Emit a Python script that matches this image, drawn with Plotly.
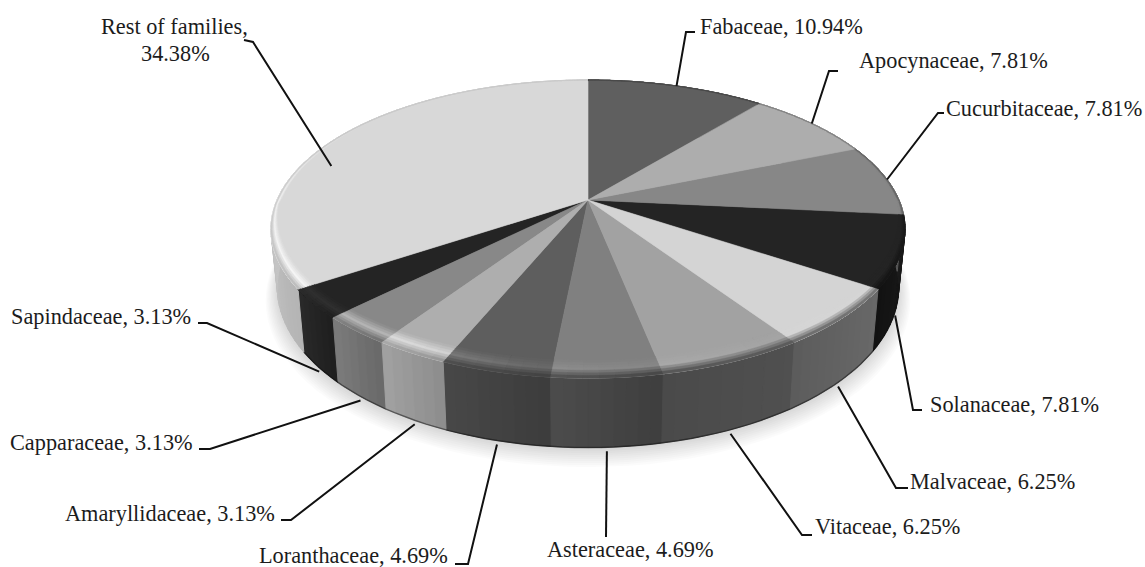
import numpy as np
import plotly.graph_objects as go

# Share of species per plant family, clockwise from twelve o'clock
families = ["Fabaceae", "Apocynaceae", "Cucurbitaceae", "Solanaceae", "Malvaceae", "Vitaceae",
            "Asteraceae", "Loranthaceae", "Amaryllidaceae", "Capparaceae", "Sapindaceae",
            "Rest of families"]
shares = [10.94, 7.81, 7.81, 7.81, 6.25, 6.25, 4.69, 4.69, 3.13, 3.13, 3.13, 34.38]

# Grey level of each slice: top face, side wall at its clockwise start and at its end
top_gray = [0x5f, 0xad, 0x87, 0x24, 0xd4, 0xa2, 0x80, 0x5e, 0xae, 0x88, 0x24, 0xd8]
side_from = [0x40, 0x70, 0x58, 0x1c, 0x68, 0x50, 0x3e, 0x3c, 0x8c, 0x68, 0x1e, 0xb4]
side_to = [0x40, 0x70, 0x58, 0x12, 0x5c, 0x4a, 0x4c, 0x48, 0xa2, 0x7c, 0x2a, 0xc4]

# Pie geometry in page pixels: apex, radii, perspective strength, wall depth
CX, CY = 588.0, 200.0
RX, RY = 311.0, 143.4
PERSP = 0.1946
DEPTH = 56.0
TAPER = 0.98
WALL_VISIBLE_TO = 262.0

# Label text placement: left edge and vertical centre; elbow of each leader line
label_pos = {
    "Fabaceae": (698, 26), "Apocynaceae": (857, 60), "Cucurbitaceae": (944, 108),
    "Solanaceae": (928, 404), "Malvaceae": (908, 481), "Vitaceae": (813, 526),
    "Asteraceae": (545, 549), "Loranthaceae": (257, 555), "Amaryllidaceae": (63, 513),
    "Capparaceae": (8, 442), "Sapindaceae": (9, 316),
}
leader_bend = {
    "Fabaceae": [(686, 32), (695, 32)], "Apocynaceae": [(829, 71), (838, 71)],
    "Cucurbitaceae": [(938, 113), (944, 113)], "Solanaceae": [(913, 410), (922, 410)],
    "Malvaceae": [(896, 488), (908, 488)], "Vitaceae": [(802, 535), (812, 535)],
    "Asteraceae": [(606, 537)], "Loranthaceae": [(468, 564), (455, 564)],
    "Amaryllidaceae": [(291, 520), (281, 520)], "Capparaceae": [(210, 449), (199, 449)],
    "Sapindaceae": [(207, 323), (198, 323)], "Rest of families": [(253, 42), (244, 40)],
}
wall_leaders = {"Solanaceae", "Malvaceae", "Vitaceae", "Asteraceae", "Loranthaceae",
                "Amaryllidaceae", "Capparaceae", "Sapindaceae"}


def project(theta, r=1.0, wall=0.0):
    """Screen position of a disc point; theta in degrees clockwise from the top."""
    t = np.radians(theta)
    X, Y = r * np.sin(t), r * np.cos(t)
    s = 1.0 / (1.0 + PERSP * Y)
    taper = 1.0 + (TAPER - 1.0) * wall
    return CX + RX * X * s * taper, CY - RY * Y * s + DEPTH * s * wall


def arc(a, b, step=1.5):
    n = max(2, int(np.ceil(abs(b - a) / step)) + 1)
    return np.linspace(a, b, n)


def bevel_width(theta):
    y = np.cos(np.radians(theta))
    return 0.008 + 0.075 * max(0.0, -y) if y < 0 else 0.008 + 0.006 * (1 - y)


def highlight(theta):
    return np.interp(theta, [100, 150, 178, 190, 200, 210, 240, 270, 290, 310, 360],
                     [0, 0.05, 0.2, 0.35, 0.7, 0.95, 0.95, 0.85, 0.35, 0, 0])


def side_gray(k, theta):
    a = edges[k]
    end = min(edges[k + 1], WALL_VISIBLE_TO)
    f = np.clip((theta - a) / max(end - a, 1e-6), 0, 1)
    return side_from[k] + (side_to[k] - side_from[k]) * f


class Layer:
    """Polygons of one stacking level, merged per grey value into a single trace."""

    def __init__(self, line_width):
        self.buckets = {}
        self.line_width = line_width

    def add(self, gray, xs, ys):
        g = int(np.clip(round(gray), 0, 255))
        bx, by = self.buckets.setdefault(g, ([], []))
        bx.extend(list(xs) + [xs[0], None])
        by.extend(list(ys) + [ys[0], None])

    def draw(self, figure):
        for g, (xs, ys) in sorted(self.buckets.items()):
            c = f"rgb({g},{g},{g})"
            figure.add_trace(go.Scatter(
                x=xs, y=ys, mode="lines", fill="toself", fillcolor=c,
                line=dict(color=c, width=self.line_width), hoverinfo="skip", showlegend=False))


total = sum(shares)
edges = np.concatenate([[0.0], np.cumsum(shares)]) / total * 360.0

fig = go.Figure()

# Soft drop shadow under the wall
for i in range(10):
    th = arc(0, 360, 3)
    sx, sy = project(th, 1.0 + 0.004 * i, 1.0)
    fig.add_trace(go.Scatter(x=sx, y=sy + 2 + 1.0 * i, mode="lines", fill="toself",
                             fillcolor="rgba(0,0,0,0.014)", line=dict(width=0),
                             hoverinfo="skip", showlegend=False))

# Wall base: one flat polygon per slice so strip seams never show the page through
base = Layer(0)
for k in range(len(families)):
    th = arc(edges[k], edges[k + 1])
    tx, ty = project(th)
    wx, wy = project(th[::-1], 1.0, 1.0)
    base.add(side_gray(k, 0.5 * (edges[k] + min(edges[k + 1], WALL_VISIBLE_TO))),
             list(tx) + list(wx), list(ty) + list(wy))
base.draw(fig)

# Wall shading, one strip per arc step
walls = Layer(1.0)
for k in range(len(families)):
    th = arc(edges[k], edges[k + 1], 2.0)
    for t0, t1 in zip(th[:-1], th[1:]):
        x0, y0 = project(t0)
        x1, y1 = project(t1)
        x2, y2 = project(t1, 1.0, 1.0)
        x3, y3 = project(t0, 1.0, 1.0)
        walls.add(side_gray(k, 0.5 * (t0 + t1)), [x0, x1, x2, x3], [y0, y1, y2, y3])
walls.draw(fig)

# Dark line along the lower edge of the wall
th = arc(100, 236, 2)
bx, by = project(th, 1.0, 1.0)
fig.add_trace(go.Scatter(x=bx, y=by, mode="lines", line=dict(color="rgba(15,15,15,0.5)", width=1.4),
                         hoverinfo="skip", showlegend=False))

# Top faces
faces = Layer(0.6)
for k in range(len(families)):
    th = arc(edges[k], edges[k + 1])
    x, y = project(th)
    faces.add(top_gray[k], [CX] + list(x), [CY] + list(y))
faces.draw(fig)

# Rounded edge between top face and wall: nested bands painted from the inside out
BANDS = np.linspace(0.0, 1.0, 8)
for j, u0 in enumerate(BANDS[:-1]):
    u = u0 + 0.5 * (BANDS[1] - BANDS[0])
    band = Layer(0.4)
    for k in range(len(families)):
        th = arc(edges[k], edges[k + 1], 2.5)
        for t0, t1 in zip(th[:-1], th[1:]):
            mid = 0.5 * (t0 + t1)
            top = top_gray[k]
            peak = top + (255 - top) * highlight(mid) * (top / 255.0) ** 1.5
            gray = np.interp(u, [0, 0.5, 1], [top, peak, side_gray(k, mid)])
            x0, y0 = project(t0, 1 - bevel_width(t0) * (1 - u0))
            x1, y1 = project(t1, 1 - bevel_width(t1) * (1 - u0))
            x2, y2 = project(t1)
            x3, y3 = project(t0)
            band.add(gray, [x0, x1, x2, x3], [y0, y1, y2, y3])
    band.draw(fig)

# Leader lines run from the middle of each slice's rim to the label
for k, fam in enumerate(families):
    mid = 0.5 * (edges[k] + edges[k + 1])
    if fam in wall_leaders:
        sx, sy = project(mid, 1.0, 1.0)
        sy += 4
    elif fam == "Rest of families":
        sx, sy = project(286.0, 0.9)
    else:
        sx, sy = project(mid)
    bend = leader_bend[fam]
    fig.add_trace(go.Scatter(x=[sx] + [p[0] for p in bend], y=[sy] + [p[1] for p in bend],
                             mode="lines", line=dict(color="#111111", width=2),
                             hoverinfo="skip", showlegend=False))

FONT = dict(family="Liberation Serif", size=22.3, color="#1c1c1c")
for fam, share in zip(families, shares):
    if fam in label_pos:
        lx, ly = label_pos[fam]
        fig.add_annotation(x=lx, y=ly, text=f"{fam}, {share:.2f}%", showarrow=False,
                           xanchor="left", yanchor="middle", font=FONT)
fig.add_annotation(x=174, y=26, text=f"{families[-1]},", showarrow=False, font=FONT,
                   xanchor="center", yanchor="middle")
fig.add_annotation(x=175, y=53, text=f"{shares[-1]:.2f}%", showarrow=False, font=FONT,
                   xanchor="center", yanchor="middle")

fig.update_layout(
    width=1145, height=567, margin=dict(l=0, r=0, t=0, b=0),
    paper_bgcolor="white", plot_bgcolor="white", showlegend=False,
    xaxis=dict(range=[0, 1145], visible=False, fixedrange=True),
    yaxis=dict(range=[567, 0], visible=False, fixedrange=True),
)
fig.write_html("out.html")
